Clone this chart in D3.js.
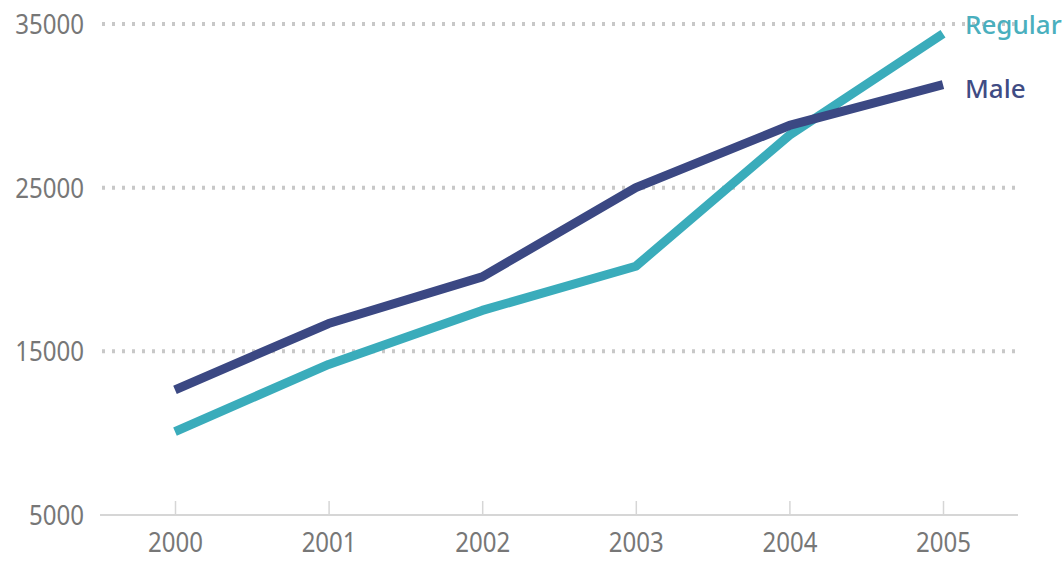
<!DOCTYPE html>
<html><head><meta charset="utf-8">
<script src="https://cdn.jsdelivr.net/npm/d3@7"></script>
<style>body{margin:0;background:#fff;} svg{display:block;}</style>
</head><body><svg id="c" width="1062" height="561"></svg>
<script>
const years = [2000, 2001, 2002, 2003, 2004, 2005];
const regular = [10100, 14200, 17500, 20200, 28200, 34400];
const male = [12650, 16700, 19550, 25000, 28800, 31300];
const yTicks = [5000, 15000, 25000, 35000];
const seriesNames = ["Regular", "Male"];
const colors = ["#3aacbb", "#3b4883"];
const labelColors = ["#4aafbe", "#3f4c84"];

const svg = d3.select("#c");
const x = d3.scalePoint().domain(years).range([175, 943]);
const y = d3.scaleLinear().domain([5000, 35000]).range([515, 24]);
const font = "'Noto Sans', sans-serif";
const sx = 0.86;

// gridlines
svg.append("g").selectAll("line").data(yTicks.filter(d => d !== 5000)).join("line")
  .attr("x1", 102).attr("x2", 1016)
  .attr("y1", d => y(d)).attr("y2", d => y(d))
  .attr("stroke", "#c8c8c8").attr("stroke-width", 4)
  .attr("stroke-dasharray", "3,7");

// y labels
svg.append("g").selectAll("g").data(yTicks).join("g")
  .attr("transform", d => `translate(84,${y(d)}) scale(${sx},1)`)
  .append("text").attr("dy", "0.36em")
  .attr("text-anchor", "end").attr("font-family", font).attr("font-size", 28)
  .attr("fill", "#777").text(d => d);

// x axis
const xAxis = d3.axisBottom(x).tickSize(0).tickPadding(0);
const gx = svg.append("g").attr("transform", `translate(0,${y(5000)})`).call(xAxis);
gx.select(".domain").remove();
gx.selectAll(".tick text").remove();
svg.append("line").attr("x1", 100).attr("x2", 1018).attr("y1", y(5000)).attr("y2", y(5000))
  .attr("stroke", "#d6d6d6").attr("stroke-width", 2);
gx.selectAll(".tick").append("line").attr("y1", 0).attr("y2", -14)
  .attr("stroke", "#d6d6d6").attr("stroke-width", 1.5);
gx.selectAll(".tick").append("g").attr("transform", `translate(0,37) scale(${sx + 0.03},1)`)
  .append("text").attr("text-anchor", "middle")
  .attr("font-family", font).attr("font-size", 27).attr("fill", "#777")
  .text(d => d);

// lines
const line = d3.line().x((d, i) => x(years[i])).y(d => y(d));
[regular, male].forEach((s, i) => {
  svg.append("path").datum(s).attr("d", line).attr("fill", "none")
    .attr("stroke", colors[i]).attr("stroke-width", 9).attr("stroke-linejoin", "round");
});

// labels
[regular, male].forEach((s, i) => {
  svg.append("text").attr("x", 965).attr("y", i === 0 ? y(35000) + 1 : y(31300) + 4).attr("dy", "0.35em")
    .attr("font-family", font).attr("font-size", 26).attr("font-weight", 500)
    .attr("fill", labelColors[i]).text(seriesNames[i]);
});
</script></body></html>
